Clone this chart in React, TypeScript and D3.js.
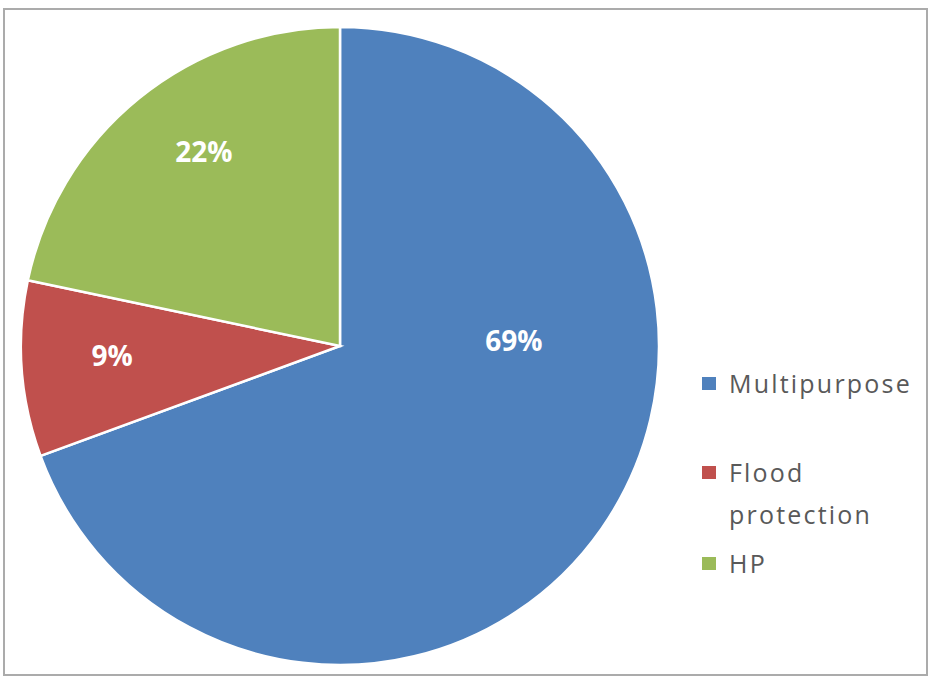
import React from "react";
import * as d3 from "d3";

const categories = ["Multipurpose", "Flood protection", "HP"];
const values = [69.4, 8.9, 21.7];
const labels = ["69%", "9%", "22%"];
const colors = ["#4f81bd", "#c0504d", "#9bbb59"];
const legendLines = [["Multipurpose"], ["Flood", "protection"], ["HP"]];

export default function App() {
  const W = 931, H = 677;
  const cx = 340, cy = 346, R = 319;
  const pie = d3.pie<number>().sort(null).value((d) => d)(values);
  const arc = d3.arc<d3.PieArcDatum<number>>().innerRadius(0).outerRadius(R);
  const font = "'Open Sans', sans-serif";
  // label placement (polar, Excel best-fit look)
  const labelPos = (p: d3.PieArcDatum<number>, i: number) => {
    const mid = (p.startAngle + p.endAngle) / 2;
    const a = i === 0 ? Math.PI / 2 - 0.03 : i === 2 ? mid + 0.07 : mid + 0.03;
    const r = i === 0 ? 174 : i === 2 ? 237 : 228;
    return [r * Math.sin(a), -r * Math.cos(a)];
  };
  const legendBase = [393, 482, 573];
  return (
    <svg width={W} height={H} style={{ position: "absolute", left: 0, top: 0, background: "#fff" }}>
      <rect x={4} y={9} width={923} height={666} fill="#fff" stroke="#ababab" strokeWidth={2} />
      <g transform={`translate(${cx},${cy})`}>
        {pie.map((p, i) => (
          <path key={i} d={arc(p) || ""} fill={colors[i]} stroke="#fff" strokeWidth={2.5} />
        ))}
        {pie.map((p, i) => {
          const [x, y] = labelPos(p, i);
          return (
            <text key={i} x={x} y={y + 10} textAnchor="middle"
              fill="#fff" fontWeight="bold" fontSize={28} fontFamily={font}>
              {labels[i]}
            </text>
          );
        })}
      </g>
      {categories.map((c, i) => (
        <g key={c}>
          <rect x={702} y={legendBase[i] - 16} width={14} height={13} fill={colors[i]} />
          {legendLines[i].map((ln, j) => (
            <text key={j} x={729} y={legendBase[i] + j * 42} letterSpacing={2.2}
              fill="#595959" fontSize={25} fontFamily={font}>
              {ln}
            </text>
          ))}
        </g>
      ))}
    </svg>
  );
}
